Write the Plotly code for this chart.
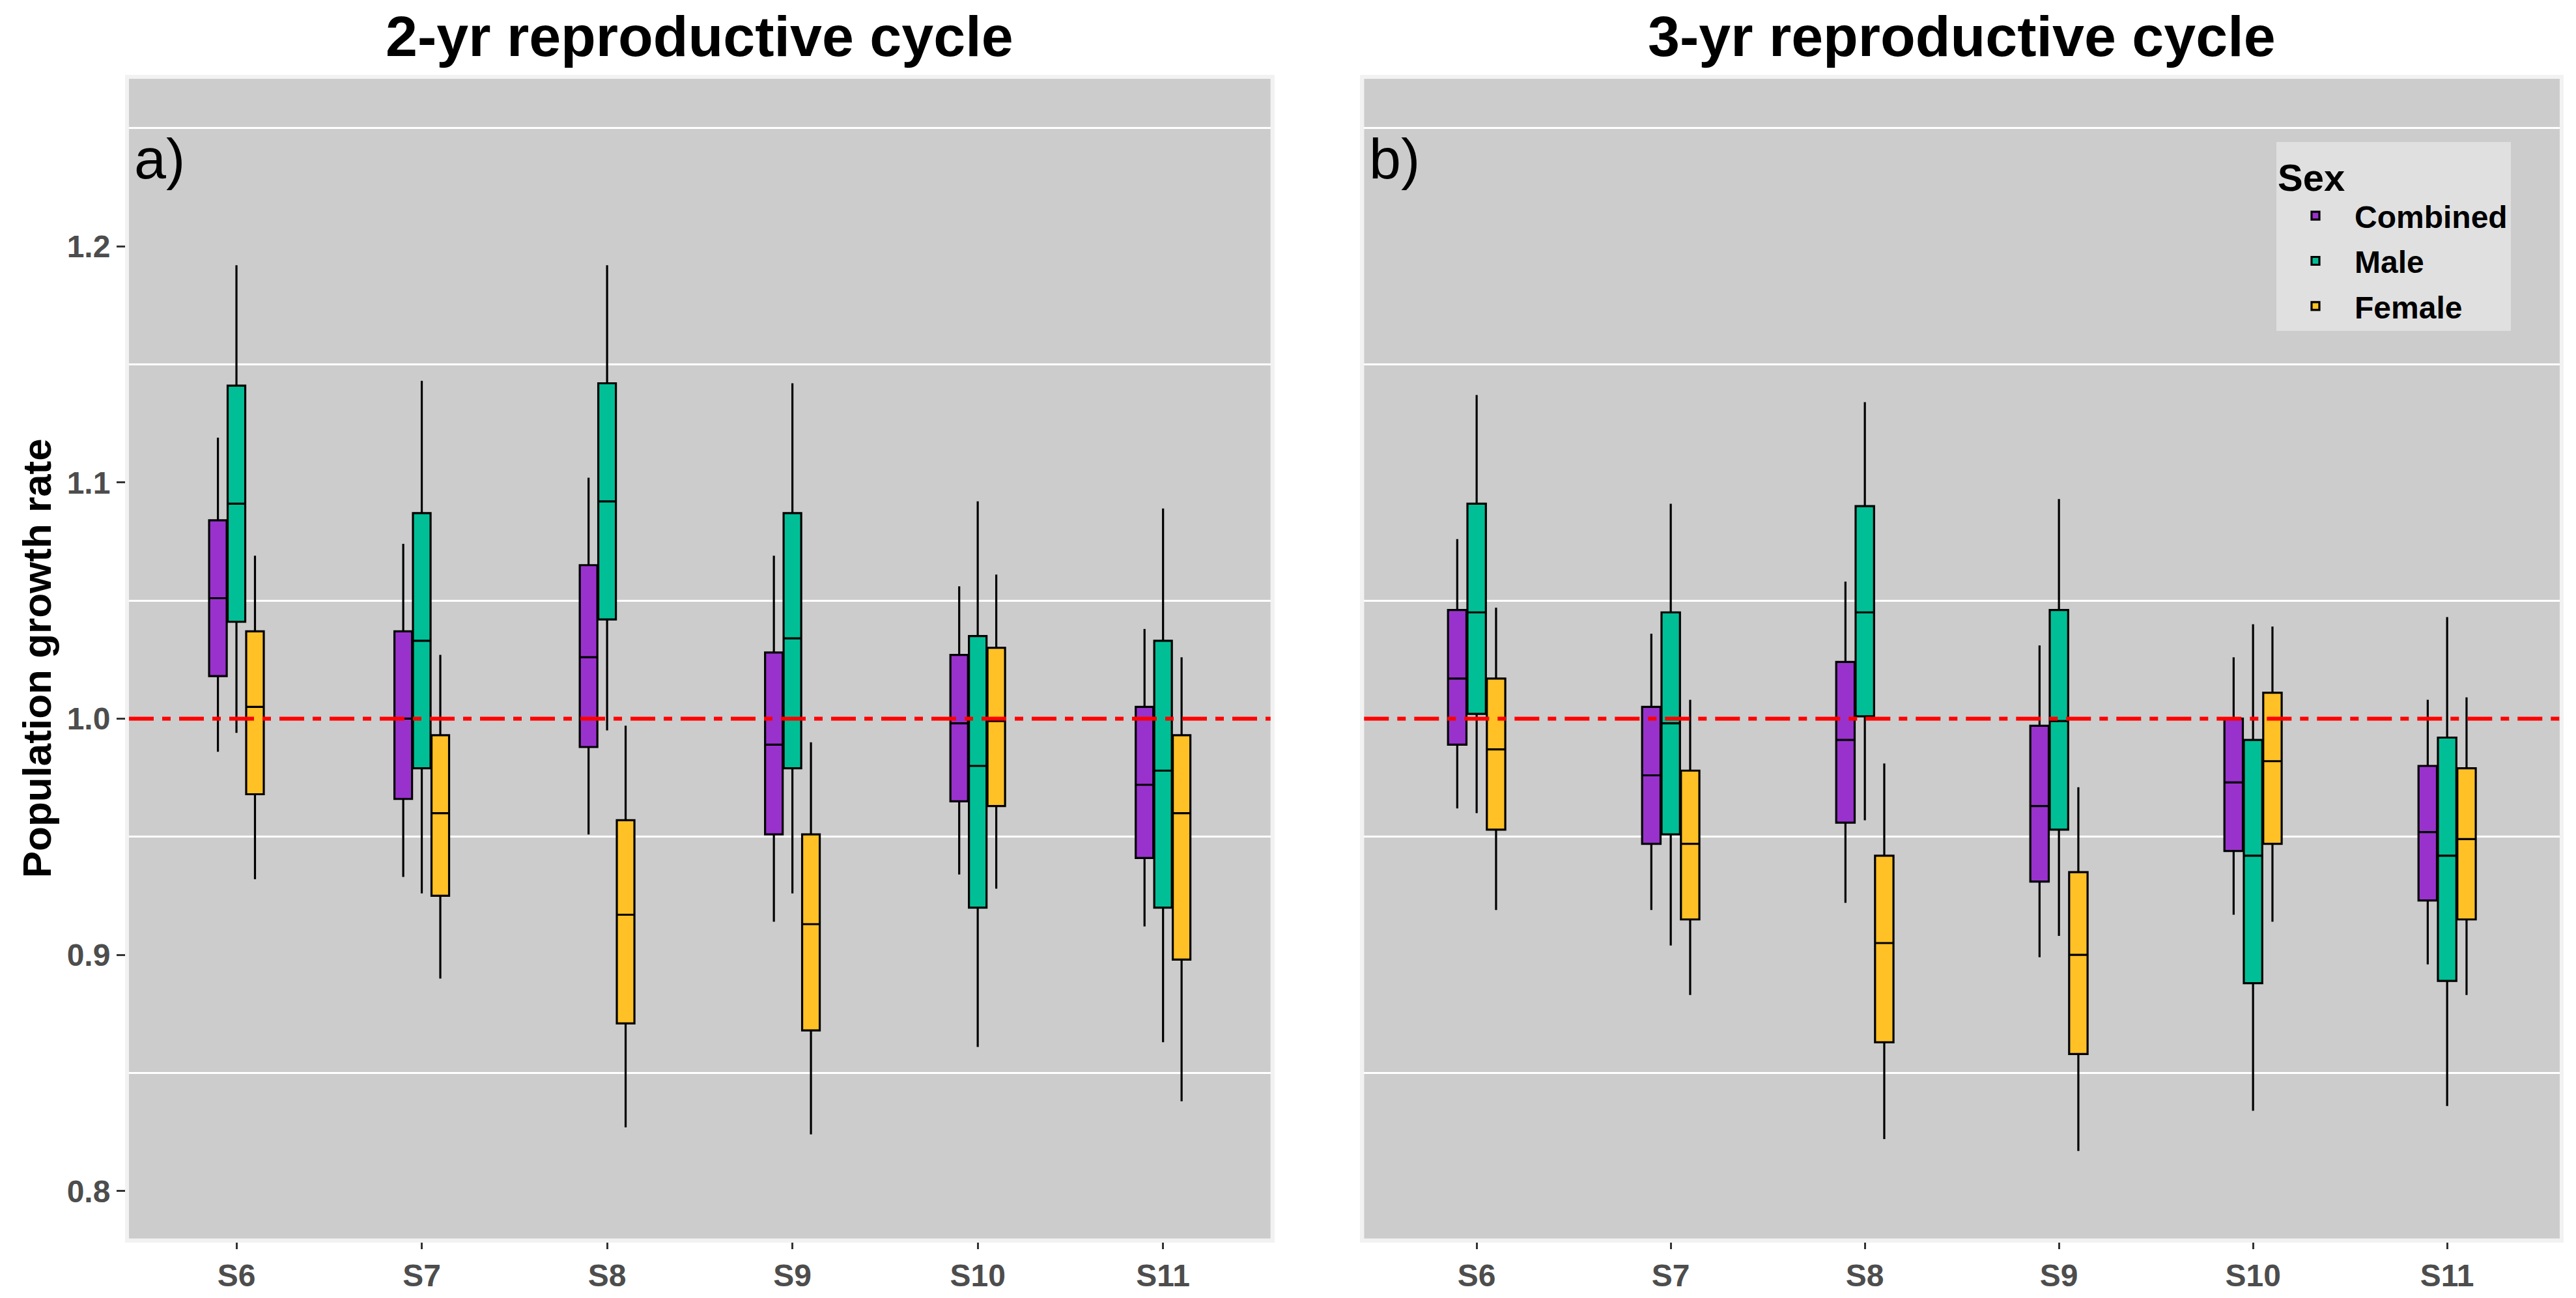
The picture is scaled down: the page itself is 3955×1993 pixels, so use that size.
import plotly.graph_objects as go
from plotly.subplots import make_subplots

# ---------------- data ----------------
SITES = ["S6", "S7", "S8", "S9", "S10", "S11"]
SERIES = ["Combined", "Male", "Female"]
COLORS = ["#9932CC", "#00BF96", "#FFC125"]
PANEL_TITLES = ["2-yr reproductive cycle", "3-yr reproductive cycle"]
PANEL_TAGS = ["a)", "b)"]
REF_LEVEL = 1.0
Y_TICKS = [0.8, 0.9, 1.0, 1.1, 1.2]

# 2-yr cycle
COMBINED_2YR_LOW = [0.986, 0.933, 0.951, 0.914, 0.934, 0.912]
COMBINED_2YR_Q1 = [1.018, 0.966, 0.988, 0.951, 0.965, 0.941]
COMBINED_2YR_MED = [1.051, 1.000, 1.026, 0.989, 0.998, 0.972]
COMBINED_2YR_Q3 = [1.084, 1.037, 1.065, 1.028, 1.027, 1.005]
COMBINED_2YR_HIGH = [1.119, 1.074, 1.102, 1.069, 1.056, 1.038]

MALE_2YR_LOW = [0.994, 0.926, 0.995, 0.926, 0.861, 0.863]
MALE_2YR_Q1 = [1.041, 0.979, 1.042, 0.979, 0.920, 0.920]
MALE_2YR_MED = [1.091, 1.033, 1.092, 1.034, 0.980, 0.978]
MALE_2YR_Q3 = [1.141, 1.087, 1.142, 1.087, 1.035, 1.033]
MALE_2YR_HIGH = [1.192, 1.143, 1.192, 1.142, 1.092, 1.089]

FEMALE_2YR_LOW = [0.932, 0.890, 0.827, 0.824, 0.928, 0.838]
FEMALE_2YR_Q1 = [0.968, 0.925, 0.871, 0.868, 0.963, 0.898]
FEMALE_2YR_MED = [1.005, 0.960, 0.917, 0.913, 0.999, 0.960]
FEMALE_2YR_Q3 = [1.037, 0.993, 0.957, 0.951, 1.030, 0.993]
FEMALE_2YR_HIGH = [1.069, 1.027, 0.997, 0.990, 1.061, 1.026]

# 3-yr cycle
COMBINED_3YR_LOW = [0.962, 0.919, 0.922, 0.899, 0.917, 0.896]
COMBINED_3YR_Q1 = [0.989, 0.947, 0.956, 0.931, 0.944, 0.923]
COMBINED_3YR_MED = [1.017, 0.976, 0.991, 0.963, 0.973, 0.952]
COMBINED_3YR_Q3 = [1.046, 1.005, 1.024, 0.997, 1.000, 0.980]
COMBINED_3YR_HIGH = [1.076, 1.036, 1.058, 1.031, 1.026, 1.008]

MALE_3YR_LOW = [0.960, 0.904, 0.957, 0.908, 0.834, 0.836]
MALE_3YR_Q1 = [1.002, 0.951, 1.001, 0.953, 0.888, 0.889]
MALE_3YR_MED = [1.045, 0.998, 1.045, 0.999, 0.942, 0.942]
MALE_3YR_Q3 = [1.091, 1.045, 1.090, 1.046, 0.991, 0.992]
MALE_3YR_HIGH = [1.137, 1.091, 1.134, 1.093, 1.040, 1.043]

FEMALE_3YR_LOW = [0.919, 0.883, 0.822, 0.817, 0.914, 0.883]
FEMALE_3YR_Q1 = [0.953, 0.915, 0.863, 0.858, 0.947, 0.915]
FEMALE_3YR_MED = [0.987, 0.947, 0.905, 0.900, 0.982, 0.949]
FEMALE_3YR_Q3 = [1.017, 0.978, 0.942, 0.935, 1.011, 0.979]
FEMALE_3YR_HIGH = [1.047, 1.008, 0.981, 0.971, 1.039, 1.009]

PANELS = [
    [
        (COMBINED_2YR_LOW, COMBINED_2YR_Q1, COMBINED_2YR_MED, COMBINED_2YR_Q3, COMBINED_2YR_HIGH),
        (MALE_2YR_LOW, MALE_2YR_Q1, MALE_2YR_MED, MALE_2YR_Q3, MALE_2YR_HIGH),
        (FEMALE_2YR_LOW, FEMALE_2YR_Q1, FEMALE_2YR_MED, FEMALE_2YR_Q3, FEMALE_2YR_HIGH),
    ],
    [
        (COMBINED_3YR_LOW, COMBINED_3YR_Q1, COMBINED_3YR_MED, COMBINED_3YR_Q3, COMBINED_3YR_HIGH),
        (MALE_3YR_LOW, MALE_3YR_Q1, MALE_3YR_MED, MALE_3YR_Q3, MALE_3YR_HIGH),
        (FEMALE_3YR_LOW, FEMALE_3YR_Q1, FEMALE_3YR_MED, FEMALE_3YR_Q3, FEMALE_3YR_HIGH),
    ],
]

# ---------------- figure ----------------
W, H = 3955, 1993
FONT = "Liberation Sans, Arial, Helvetica, sans-serif"
PANEL_BG = "#CCCCCC"

fig = make_subplots(rows=1, cols=2, shared_yaxes=False)

for p, panel in enumerate(PANELS):
    for s, (low, q1, med, q3, high) in enumerate(panel):
        fig.add_trace(
            go.Box(
                name=SERIES[s],
                x=SITES,
                lowerfence=low,
                q1=q1,
                median=med,
                q3=q3,
                upperfence=high,
                fillcolor=COLORS[s],
                line=dict(color="black", width=3.2),
                whiskerwidth=0,
                boxpoints=False,
                offsetgroup=SERIES[s],
                legendgroup=SERIES[s],
                showlegend=(p == 1),
                hoverinfo="skip",
            ),
            row=1, col=p + 1,
        )

x_domains = [[198 / W, 1950.7 / W], [2094.3 / W, 3930 / W]]
y_domain = [1 - 1901.7 / H, 1 - 121 / H]
Y_RANGE = [0.7799, 1.2709]
X_RANGE = [-0.58, 5.58]

axis_common = dict(
    showline=True, linecolor="#F2F2F2", linewidth=6, mirror=True, zeroline=False,
)

for i in range(2):
    xa = "xaxis" if i == 0 else "xaxis2"
    ya = "yaxis" if i == 0 else "yaxis2"
    fig.update_layout(**{
        xa: dict(
            domain=x_domains[i], range=X_RANGE, type="category",
            categoryorder="array", categoryarray=SITES,
            showgrid=False, ticks="outside", ticklen=10, tickwidth=3, tickcolor="#333333",
            tickfont=dict(family=FONT, size=48, color="#4D4D4D", weight="bold"),
            **axis_common,
        ),
        ya: dict(
            domain=y_domain, range=Y_RANGE,
            tickvals=Y_TICKS, tickformat=".1f",
            showgrid=False,
            ticks="outside" if i == 0 else "", ticklen=13, tickwidth=3, tickcolor="#333333",
            showticklabels=(i == 0),
            tickfont=dict(family=FONT, size=48, color="#4D4D4D", weight="bold"),
            minor=dict(tick0=0.05, dtick=0.1, showgrid=True, gridcolor="white", gridwidth=3, ticks=""),
            **axis_common,
        ),
    })
    # reference line at 1.0
    fig.add_hline(y=REF_LEVEL, line=dict(color="#FF0000", width=6, dash="38px,13px,13px,13px"),
                  row=1, col=i + 1, layer="above")

# panel titles
annotations = []
for i in range(2):
    cx = (x_domains[i][0] + x_domains[i][1]) / 2
    annotations.append(dict(
        text=PANEL_TITLES[i], xref="paper", yref="paper", x=cx, y=1 - 56 / H,
        xanchor="center", yanchor="middle", showarrow=False,
        font=dict(family=FONT, size=88, color="black", weight="bold"),
    ))
    annotations.append(dict(
        text=PANEL_TAGS[i], xref="x" if i == 0 else "x2", yref="y" if i == 0 else "y2",
        x=-0.56, y=1.237, xanchor="left", yanchor="middle", showarrow=False,
        font=dict(family=FONT, size=88, color="black"),
    ))
annotations.append(dict(
    text="Population growth rate", xref="paper", yref="paper",
    x=56 / W, y=(y_domain[0] + y_domain[1]) / 2, textangle=-90,
    xanchor="center", yanchor="middle", showarrow=False,
    font=dict(family=FONT, size=62, color="black", weight="bold"),
))

fig.update_layout(
    width=W, height=H,
    margin=dict(l=0, r=0, t=0, b=0),
    paper_bgcolor="white",
    plot_bgcolor=PANEL_BG,
    boxmode="group", boxgap=0.7, boxgroupgap=0.05,
    annotations=annotations,
    legend=dict(
        title=dict(text="Sex", font=dict(family=FONT, size=58, color="black", weight="bold")),
        font=dict(family=FONT, size=48, color="black", weight="bold"),
        x=3495 / W, y=1 - 218 / H, xanchor="left", yanchor="top",
        bgcolor="#E0E0E0", borderwidth=0, itemwidth=110,
        tracegroupgap=4,
    ),
    font=dict(family=FONT),
)

fig.write_html(
    "out.html",
    include_plotlyjs=True,
    config={"displayModeBar": False},
    post_script="document.body.style.margin='0';document.body.style.overflow='hidden';",
)
